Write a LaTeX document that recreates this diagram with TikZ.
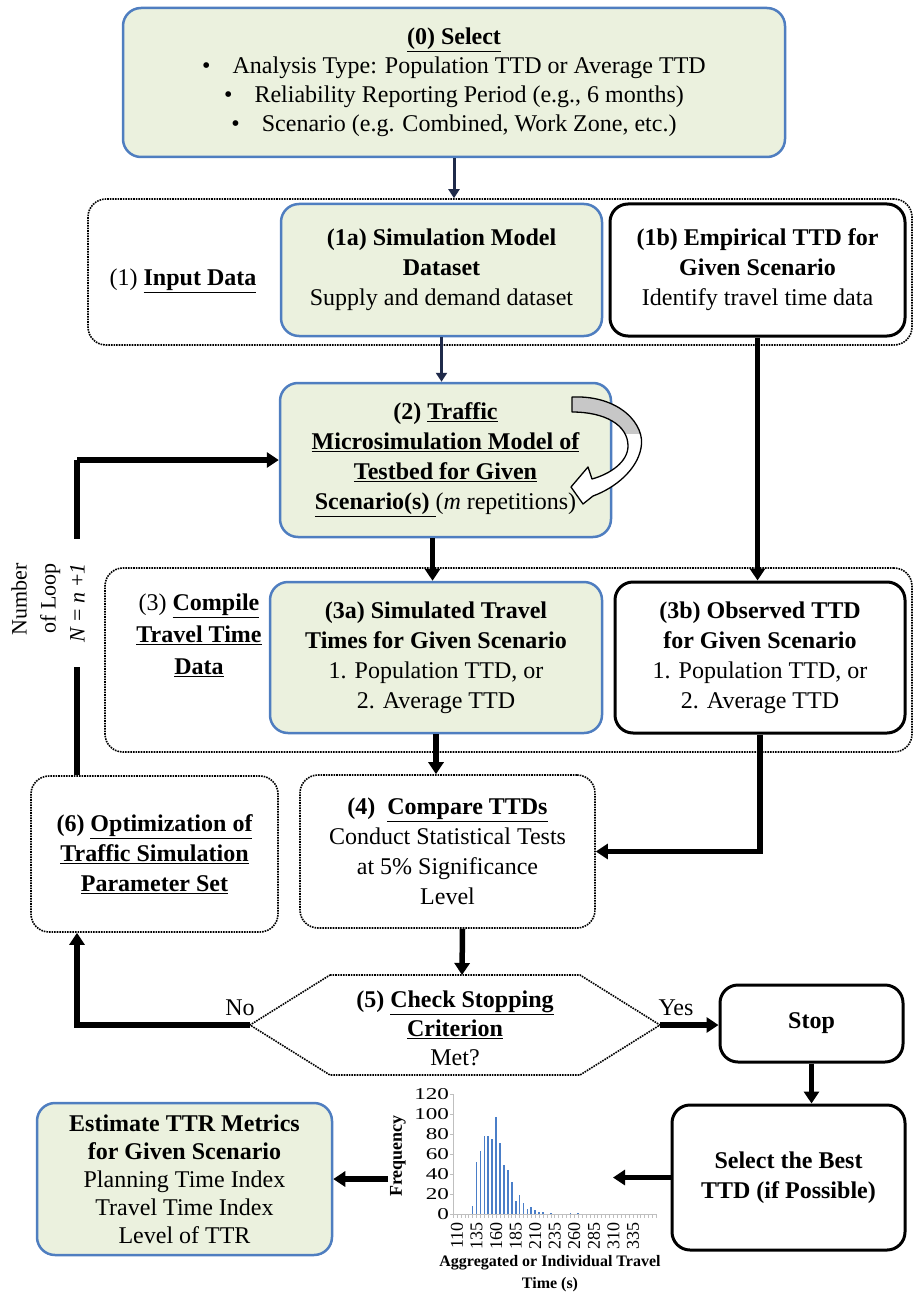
\documentclass[tikz,border=0pt]{standalone}
\usepackage{fontspec}
\setmainfont{Liberation Serif}
\usetikzlibrary{arrows.meta,calc}
\definecolor{gfill}{HTML}{EBF1DE}
\definecolor{bborder}{HTML}{4F7EC0}
\definecolor{navy}{HTML}{1F2A4A}
\definecolor{barblue}{HTML}{4A7EC8}
\definecolor{axgray}{HTML}{BFBFBF}
\begin{document}
\begin{tikzpicture}[x=1pt,y=-1pt,
  base/.style={rectangle,rounded corners=18pt,align=center,inner sep=0pt,font=\fontsize{24}{30}\selectfont},
  greenbox/.style={base,draw=bborder,line width=2.5pt,fill=gfill},
  blackbox/.style={base,draw=black,line width=3pt,fill=white},
  dotbox/.style={base,draw=black,line width=1.6pt,densely dotted},
  fat/.style={line width=5.5pt,-{Triangle[length=12pt,width=15pt]}},
  navyarrow/.style={draw=navy,line width=3pt,-{Triangle[length=9pt,width=11pt]}},
  lbl/.style={font=\fontsize{24}{30}\selectfont,align=center,inner sep=0pt},
  small/.style={font=\fontsize{17}{17}\selectfont,inner sep=0pt},
]
\useasboundingbox (0,0) rectangle (914,1297);

% groups
\node[dotbox, minimum width=824pt, minimum height=146pt] (grp1) at (500,272) {};
\node[dotbox, minimum width=807pt, minimum height=184pt] (grp3) at (508.5,660) {};

% (0)
\node[greenbox, minimum width=662pt, minimum height=149pt] (sel0) at (454,82.5)
 {\textbf{\underline{(0) Select}}\\[-1pt]
  \textbullet\hspace{22pt}Analysis Type: Population TTD or Average TTD\\[-1pt]
  \textbullet\hspace{22pt}Reliability Reporting Period (e.g., 6 months)\\[-1pt]
  \textbullet\hspace{22pt}Scenario (e.g. Combined, Work Zone, etc.)};

% (1)
\node[lbl] (lbl1) at (183,281) {(1) \textbf{\underline{Input Data}}};
\node[greenbox, minimum width=321pt, minimum height=132pt] (n1a) at (441.5,270)
 {\textbf{(1a) Simulation Model}\\\textbf{Dataset}\\Supply and demand dataset};
\node[blackbox, minimum width=295pt, minimum height=132pt] (n1b) at (757.5,270)
 {\textbf{(1b) Empirical TTD for}\\\textbf{Given Scenario}\\Identify travel time data};

% (2)
\node[greenbox, minimum width=331pt, minimum height=154pt] (n2) at (445.5,460)
 {\textbf{(2) \underline{Traffic}}\\\textbf{\underline{Microsimulation Model of}}\\\textbf{\underline{Testbed for Given}}\\\textbf{\underline{Scenario(s)\ }}(\textit{m} repetitions)};

% curved repetition arrow
\begin{scope}
\path[fill=white] (572,397) .. controls (620,395) and (646,425) .. (641,448)
  .. controls (637,470) and (615,488) .. (593,496) -- (583,504) -- (571,487) -- (588,467) -- (592,479)
  .. controls (610,474) and (628,462) .. (628,446) .. controls (628,425) and (605,412) .. (572,412) -- cycle;
\clip (560,385) rectangle (660,433);
\path[fill=black!22] (572,397) .. controls (620,395) and (646,425) .. (641,448)
  .. controls (637,470) and (615,488) .. (593,496) -- (583,504) -- (571,487) -- (588,467) -- (592,479)
  .. controls (610,474) and (628,462) .. (628,446) .. controls (628,425) and (605,412) .. (572,412) -- cycle;
\end{scope}
\draw[line width=1.3pt, line join=round] (572,397) .. controls (620,395) and (646,425) .. (641,448)
  .. controls (637,470) and (615,488) .. (593,496) -- (583,504) -- (571,487) -- (588,467) -- (592,479)
  .. controls (610,474) and (628,462) .. (628,446) .. controls (628,425) and (605,412) .. (572,412) -- cycle;

% (3)
\node[lbl, font=\fontsize{24}{32}\selectfont] (lbl3) at (199,635)
 {(3) \textbf{\underline{Compile}}\\\textbf{\underline{Travel Time}}\\\textbf{\underline{Data}}};
\node[greenbox, minimum width=332pt, minimum height=151pt] (n3a) at (436,657.5)
 {\textbf{(3a) Simulated Travel}\\\textbf{Times for Given Scenario}\\1. Population TTD, or\\2. Average TTD};
\node[blackbox, minimum width=290pt, minimum height=151pt] (n3b) at (760,657.5)
 {\textbf{(3b) Observed TTD}\\\textbf{for Given Scenario}\\1. Population TTD, or\\2. Average TTD};

% (4) and (6)
\node[dotbox, minimum width=295pt, minimum height=153pt] (n4) at (447.5,851.5)
 {\textbf{(4)\ \ \underline{Compare TTDs}}\\Conduct Statistical Tests\\at 5\% Significance\\Level};
\node[dotbox, minimum width=247pt, minimum height=156pt] (n6) at (154.5,854)
 {\textbf{(6) \underline{Optimization of}}\\\textbf{\underline{Traffic Simulation}}\\\textbf{\underline{Parameter Set}}};

% (5) hexagon
\coordinate (hTL) at (330,975);
\coordinate (hTR) at (580,975);
\coordinate (hR) at (660,1025);
\coordinate (hBR) at (580,1075);
\coordinate (hBL) at (330,1075);
\coordinate (hL) at (250,1025);
\coordinate (hIn) at (462,975);
\draw[line width=1.6pt,densely dotted] (hTL) -- (hTR) -- (hR) -- (hBR) -- (hBL) -- (hL) -- cycle;
\node[lbl, font=\fontsize{24}{29}\selectfont] (n5) at (455,1028)
 {\textbf{(5) \underline{Check Stopping}}\\\textbf{\underline{Criterion}}\\Met?};
\node[lbl] (no) at (240,1008) {No};
\node[lbl] (yes) at (676,1008) {Yes};

% Stop, Select best, Estimate
\node[blackbox, minimum width=183pt, minimum height=77pt] (stop) at (811.5,1023.5) {\textbf{Stop}};
\node[blackbox, minimum width=233pt, minimum height=145pt] (best) at (788.5,1177.5)
 {\textbf{Select the Best}\\\textbf{TTD (if Possible)}};
\node[greenbox, minimum width=295pt, minimum height=152pt, font=\fontsize{24}{28}\selectfont] (est) at (184.5,1179)
 {\textbf{Estimate TTR Metrics}\\\textbf{for Given Scenario}\\Planning Time Index\\Travel Time Index\\Level of TTR};

% histogram
\begin{scope}[shift={(457,1214)}, x=0.782pt, y=1pt]
  \draw[axgray, line width=1pt] (-5,0) -- (-5,120);
  \foreach \v in {0,20,...,120} {
    \draw[axgray, line width=0.8pt] (-5,\v) -- (-9,\v);
    \node[font=\fontsize{16.5}{16.5}\selectfont, inner sep=0pt, anchor=east] at (-10,\v) {\scalebox{1.4}[1]{\v}};
  }
  \draw[axgray, line width=1pt] (-5,0) -- (255,0);
  \foreach \u in {-5,0,...,255} {
    \draw[axgray, line width=0.6pt] (\u,0) -- (\u,-4);
  }
  \foreach \v in {110,135,...,335} {
    \node[font=\fontsize{18}{18}\selectfont, inner sep=0pt, rotate=90, anchor=east] at (\v-110,-8) {\v};
  }
  \foreach \v/\f in {130/8,135/52,140/63,145/78,150/78,155/75,160/97,165/71,170/49,175/44,180/32,185/13,190/19,195/11,200/5,205/7,210/4,215/2,220/2,230/1,255/1,265/1} {
    \draw[barblue, line width=1.7pt] (\v-110,0) -- (\v-110,\f);
  }
\end{scope}
\node[font=\bfseries\fontsize{18}{18}\selectfont, rotate=90, inner sep=0pt] (ytitle) at (398,1156) {Frequency};
\node[font=\bfseries\fontsize{16}{22}\selectfont, align=center, inner sep=0pt] (xtitle) at (550,1274)
 {Aggregated or Individual Travel\\Time (s)};
\coordinate (histR) at (613,1177.5);
\coordinate (histL) at (388,1179);

% loop label
\draw[line width=5.5pt] ([xshift=-77.5pt]n6.north) -- ([xshift=-77.5pt]n6.north |- n2.west);
\node[rotate=90, align=right, fill=white, inner sep=2pt, minimum width=128pt,
      font=\fontsize{22}{29}\selectfont] (loopl) at (48,603)
 {Number\\of Loop\\\textit{N} = \textit{n} +\textit{1}};
\draw[fat] ([xshift=-77.5pt]n6.north |- n2.west) -- (n2.west);

% connectors
\draw[navyarrow] (sel0.south) -- (sel0.south |- grp1.north);
\draw[navyarrow] (n1a.south) -- (n1a.south |- n2.north);
\draw[fat] (n1b.south) -- (n1b.south |- n3b.north);
\draw[fat] ([xshift=-13pt]n2.south) -- ([xshift=-13pt]n2.south |- n3a.north);
\draw[fat] (n3a.south) -- (n3a.south |- n4.north);
\draw[fat] (n3b.south) |- (n4.east);
\draw[fat] ([xshift=15pt]n4.south) -- (hIn);
\draw[fat] (hL) -| ([xshift=-77.5pt]n6.south);
\draw[fat] (hR) -- (hR -| stop.west);
\draw[fat] (stop.south) -- (stop.south |- best.north);
\draw[fat] (best.west) -- (histR);
\draw[fat] (histL) -- (histL -| est.east);
\end{tikzpicture}
\end{document}
